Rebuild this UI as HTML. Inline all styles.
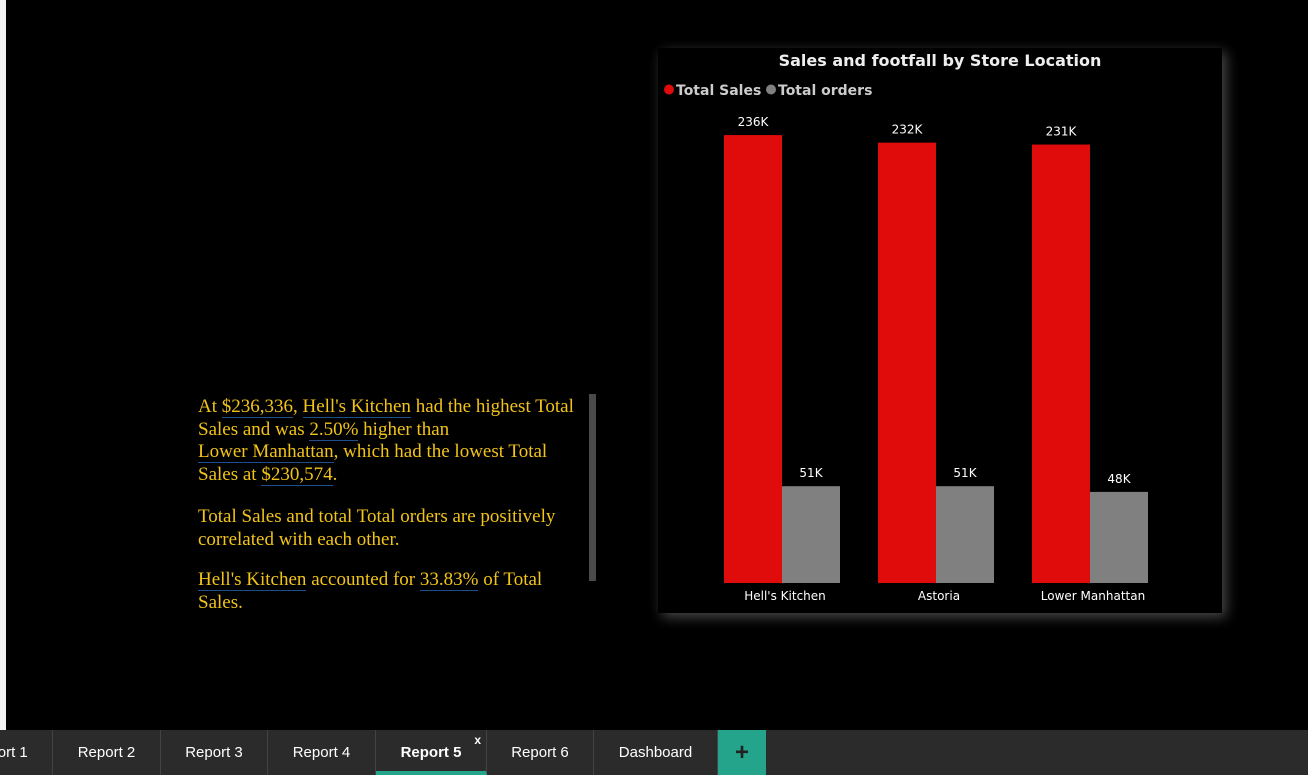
<!DOCTYPE html>
<html><head><meta charset="utf-8"><style>
body{margin:0;width:1308px;height:775px;background:#000;position:relative;overflow:hidden;font-family:"Liberation Sans",sans-serif}
.strip{position:absolute;left:0;top:0;width:6px;height:730px;background:#f3f3f3}
.narr{position:absolute;left:198px;top:396px;width:382px;font-family:"Liberation Serif",serif;font-size:19px;line-height:22.5px;color:#f2c318}
.narr p{margin:0 0 18px 0}
.narr p.a{margin-bottom:20px}
.u{border-bottom:1.5px solid #1f4e8c}
.scroll{position:absolute;left:589px;top:394px;width:7px;height:187px;background:#4a4a4a}
.panel{position:absolute;left:658px;top:48px;width:564px;height:565px;background:#000;box-shadow:4px 4px 12px rgba(90,90,90,.8)}
.tabs{position:absolute;left:0;top:730px;width:1308px;height:45px;background:#2b2b2b}
.tab{position:absolute;top:0;height:45px;line-height:45px;text-align:center;color:#fff;font-size:15px;border-right:1px solid #444;box-sizing:border-box}
</style></head><body>
<div class="strip"></div>
<div class="narr">
<p class="a">At <span class="u">$236,336</span>, <span class="u">Hell's Kitchen</span> had the highest Total Sales and was <span class="u">2.50%</span> higher than<br><span class="u">Lower Manhattan</span>, which had the lowest Total Sales at <span class="u">$230,574</span>.</p>
<p>Total Sales and total Total orders are positively correlated with each other.</p>
<p><span class="u">Hell's Kitchen</span> accounted for <span class="u">33.83%</span> of Total Sales.</p>
</div>
<div class="scroll"></div>
<div class="panel">
<svg id="ch" width="564" height="565" xmlns="http://www.w3.org/2000/svg">
<text x="282" y="18" text-anchor="middle" fill="#eee" font-weight="bold" font-size="16" font-family="DejaVu Sans, sans-serif">Sales and footfall by Store Location</text>
<g>
<circle cx="11" cy="41.5" r="5" fill="#e00b0b"/>
<text x="18" y="47" fill="#ccc" font-weight="bold" font-size="14" font-family="DejaVu Sans, sans-serif">Total Sales</text>
<circle cx="113" cy="41.5" r="5" fill="#808080"/>
<text x="120" y="47" fill="#ccc" font-weight="bold" font-size="14" font-family="DejaVu Sans, sans-serif">Total orders</text>
</g>
</svg>
</div>
<div class="tabs">
<div class="tab" style="left:-54px;width:107px">Report 1</div>
<div class="tab" style="left:53px;width:108px">Report 2</div>
<div class="tab" style="left:161px;width:107px">Report 3</div>
<div class="tab" style="left:268px;width:108px">Report 4</div>
<div class="tab" style="left:376px;width:111px;font-weight:bold;border-bottom:4px solid #25a48c">Report 5<span style="position:absolute;right:5px;top:-12px;font-size:12px">x</span></div>
<div class="tab" style="left:487px;width:107px">Report 6</div>
<div class="tab" style="left:594px;width:124px">Dashboard</div>
<div class="tab" style="left:718px;width:48px;background:#25a48c;font-size:24px;font-weight:bold;color:#222;border:none">+</div>
</div>
<script>
const categories=["Hell's Kitchen","Astoria","Lower Manhattan"];
const salesValues=[236,232,231];
const orderValues=[51,51,48];
const salesLabels=["236K","232K","231K"];
const orderLabels=["51K","51K","48K"];
const svg=document.getElementById('ch');
const NS='http://www.w3.org/2000/svg';
const baseY=535, pxPerK=1.898, x0=124, step=154, bw=58;
const y=v=>baseY-v*pxPerK;
function mk(t,a){const e=document.createElementNS(NS,t);for(const k in a)e.setAttribute(k,a[k]);svg.appendChild(e);return e;}
categories.forEach((c,i)=>{
  const cx=x0+i*step;
  const r=mk('rect',{x:cx-bw,y:y(salesValues[i]),width:bw,height:salesValues[i]*pxPerK,fill:'#e00b0b'});
  
  
  const g=mk('rect',{x:cx,y:y(orderValues[i]),width:bw,height:orderValues[i]*pxPerK,fill:'#808080'});
  
  
  const t1=mk('text',{x:cx-bw/2,y:y(salesValues[i])-9,'text-anchor':'middle',fill:'#fff','font-size':12,'font-family':'DejaVu Sans, sans-serif'});
  t1.textContent=salesLabels[i];
  
  
  const t2=mk('text',{x:cx+bw/2,y:y(orderValues[i])-9,'text-anchor':'middle',fill:'#fff','font-size':12,'font-family':'DejaVu Sans, sans-serif'});
  t2.textContent=orderLabels[i];
  
  
  const xl=mk('text',{x:cx+3,y:baseY+17,'text-anchor':'middle',fill:'#fff','font-size':12,'font-family':'DejaVu Sans, sans-serif'});
  xl.textContent=c;
  
  
});
</script>
</body></html>
